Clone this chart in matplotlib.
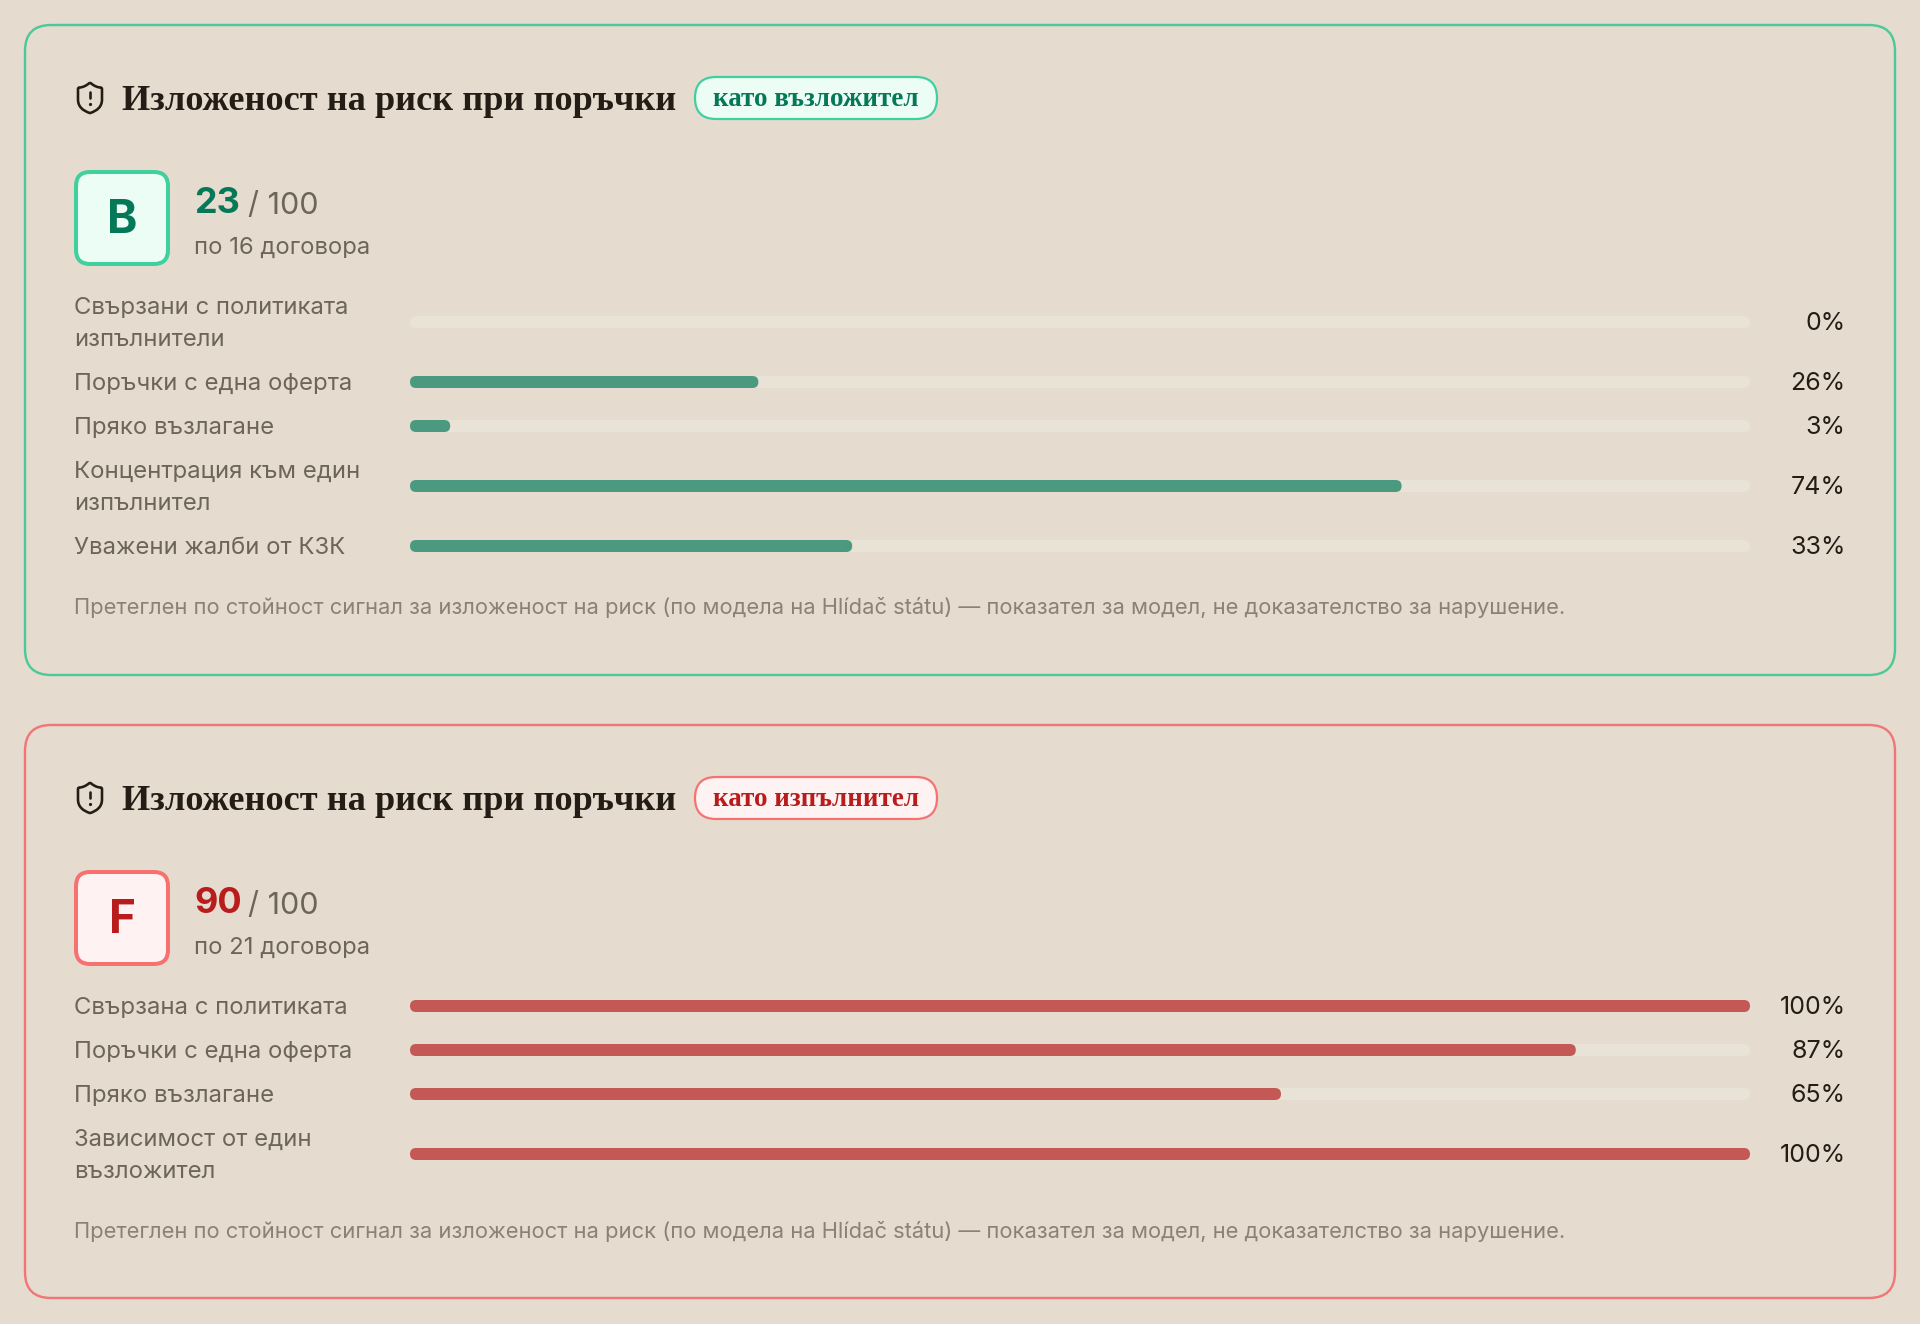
import matplotlib
matplotlib.use("Agg")
import matplotlib.pyplot as plt
from matplotlib.patches import FancyBboxPatch, PathPatch
from matplotlib.path import Path

W, H = 1920, 1324
TITLE = "Изложеност на риск при поръчки"
FOOT = "Претеглен по стойност сигнал за изложеност на риск (по модела на Hlídač státu) — показател за модел, не доказателство за нарушение."

buyer_labels = ["Свързани с политиката\nизпълнители", "Поръчки с една оферта", "Пряко възлагане",
                "Концентрация към един\nизпълнител", "Уважени жалби от КЗК"]
buyer_values = [0, 26, 3, 74, 33]
supplier_labels = ["Свързана с политиката", "Поръчки с една оферта", "Пряко възлагане",
                   "Зависимост от един\nвъзложител"]
supplier_values = [100, 87, 65, 100]

BG = "#e5dccf"
TRACK = "#e9e3d7"
INK = "#241d16"
MUTED = "#6e655a"
FAINT = "#8b8175"
SANS = "Inter"
SERIF = "Liberation Serif"

fig = plt.figure(figsize=(W / 100, H / 100), dpi=100, facecolor=BG)
ax = fig.add_axes([0, 0, 1, 1])
ax.set_xlim(0, W)
ax.set_ylim(H, 0)
ax.axis("off")

BAR_L, BAR_R = 410, 1750
bx = fig.add_axes([BAR_L / W, 0, (BAR_R - BAR_L) / W, 1])
bx.set_xlim(0, 100)
bx.set_ylim(H, 0)
bx.axis("off")
bx.patch.set_alpha(0)

PX = 0.72


def txt(x, y, s, size, color, weight="normal", family=SANS, ha="left"):
    return ax.text(x, y, s, fontsize=size * PX, color=color, fontweight=weight,
                   family=family, ha=ha, va="baseline", zorder=5)


def rbox(x0, y0, x1, y1, r, fc, ec, lw):
    ax.add_patch(FancyBboxPatch((x0 + r, y0 + r), x1 - x0 - 2 * r, y1 - y0 - 2 * r,
                                boxstyle=f"round,pad={r},rounding_size={r}",
                                fc=fc, ec=ec, lw=lw * PX, zorder=2))


def bar(y, value, color, h=12):
    r = h / 2
    u = 100 / (BAR_R - BAR_L)
    bx.add_patch(FancyBboxPatch((0, y - h / 2), value, h,
                                boxstyle=f"round,pad=0,rounding_size={r * u}",
                                mutation_aspect=1 / u, fc=color, ec="none", zorder=3))


def shield(y0, color):
    M, L, C, Z = Path.MOVETO, Path.LINETO, Path.CURVE4, Path.CLOSEPOLY
    pts = [(20, 13), (20, 18), (16.5, 20.5), (12.34, 21.95), (12.1, 22.03), (11.9, 22.03), (11.67, 21.94),
           (7.5, 20.5), (4, 18), (4, 13), (4, 6), (4, 5.4), (4.4, 5), (5, 5),
           (7, 5), (9.5, 3.8), (11.24, 2.28), (11.7, 1.9), (12.3, 1.9), (12.76, 2.28),
           (14.51, 3.81), (17, 5), (19, 5), (19.6, 5), (20, 5.4), (20, 6), (20, 13)]
    codes = [M, C, C, C, C, C, C, C, C, C, L, C, C, C, C, C, C, C, C, C, C, C, C, C, C, C, Z]
    f = lambda p: (72 + 1.5 * p[0], y0 + 1.5 * p[1])
    ax.add_patch(PathPatch(Path([f(p) for p in pts], codes), fc="none", ec=color, lw=2.6 * PX,
                           joinstyle="round", zorder=5))
    ax.plot([90, 90], [y0 + 12, y0 + 18], color=color, lw=2.6 * PX, solid_capstyle="round", zorder=5)
    ax.plot([90], [y0 + 24], "o", color=color, ms=3.2 * PX, mew=0, zorder=5)


def panel(top, bottom, accent, vivid, pill_fc, strong, fill, tag, grade, score, count, labels, values, rows, foot_y):
    d = top - 25
    rbox(25, top, 1895, bottom, 26, BG, accent, 2.4)
    shield(80 + d, INK)
    txt(122, 110 + d, TITLE, 36.2, INK, "bold", SERIF)
    rbox(695, 77 + d, 937, 119 + d, 21, pill_fc, vivid, 2.2)
    txt(816, 106 + d, tag, 27, strong, "bold", SERIF, ha="center")
    rbox(76, 172 + d, 168, 264 + d, 14, pill_fc, vivid, 4)
    txt(122, 233 + d, grade, 46, strong, "bold", ha="center")
    txt(194, 213 + d, str(score), 36, strong, "bold")
    txt(248, 214 + d, "/ 100", 30.5, MUTED)
    txt(194, 254 + d, f"по {count} договора", 23.8, MUTED)
    for lab, val, y in zip(labels, values, rows):
        bar(y, 100, TRACK)
        if val > 0:
            bar(y, val, fill)
        lines = lab.split("\n")
        if len(lines) == 1:
            txt(74, y + 8, lines[0], 23.9, MUTED)
        else:
            txt(74, y - 8, lines[0], 23.9, MUTED)
            txt(74, y + 24, lines[1], 23.9, MUTED)
        txt(1845.5, y + 8, f"{val}%", 25, INK, ha="right")
    txt(74, foot_y, FOOT, 21.9, FAINT)


panel(25, 675, "#4cc996", "#3fd09b", "#ecfdf6", "#047857", "#4b9a80", "като възложител", "B", 23, 16,
      buyer_labels, buyer_values, [322, 382, 426, 486, 546], 614)
panel(725, 1298, "#f07678", "#f87171", "#fef2f2", "#b91c1c", "#c45855", "като изпълнител", "F", 90, 21,
      supplier_labels, supplier_values, [1006, 1050, 1094, 1154], 1238)

fig.savefig("out.png", dpi=100, facecolor=BG)
